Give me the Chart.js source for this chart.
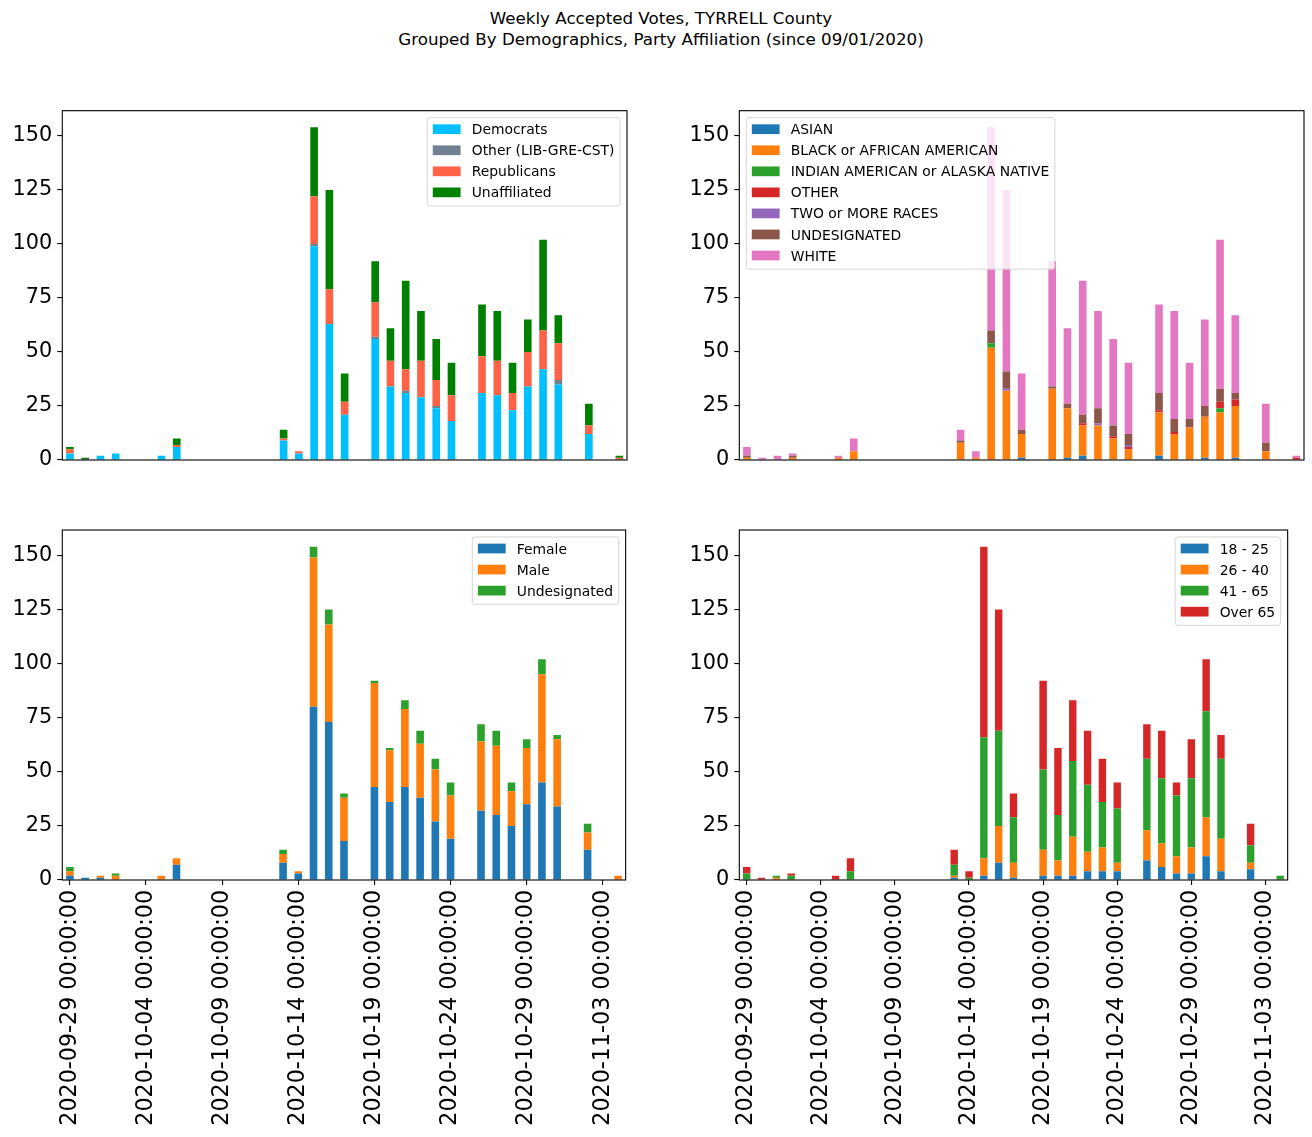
<!DOCTYPE html>
<html><head><meta charset="utf-8">
<script src="https://cdn.jsdelivr.net/npm/chart.js@4.4.1/dist/chart.umd.min.js"></script>
<style>
html,body{margin:0;padding:0;background:#fff;overflow:hidden;width:1312px;height:1137px;}
canvas{position:absolute;}
#title{position:absolute;left:0;top:7.7px;width:1322px;text-align:center;font-family:'DejaVu Sans';font-size:16.7px;line-height:21px;color:#000;}
</style></head><body>
<div id="title">Weekly Accepted Votes, TYRRELL County<br>Grouped By Demographics, Party Affiliation (since 09/01/2020)</div>
<canvas id="c1"></canvas><canvas id="c2"></canvas><canvas id="c3"></canvas><canvas id="c4"></canvas>
<script>
const dates = [
 "2020-09-29 00:00:00","2020-09-30 00:00:00","2020-10-01 00:00:00","2020-10-02 00:00:00","2020-10-03 00:00:00",
 "2020-10-04 00:00:00","2020-10-05 00:00:00","2020-10-06 00:00:00","2020-10-07 00:00:00","2020-10-08 00:00:00",
 "2020-10-09 00:00:00","2020-10-10 00:00:00","2020-10-11 00:00:00","2020-10-12 00:00:00","2020-10-13 00:00:00",
 "2020-10-14 00:00:00","2020-10-15 00:00:00","2020-10-16 00:00:00","2020-10-17 00:00:00","2020-10-18 00:00:00",
 "2020-10-19 00:00:00","2020-10-20 00:00:00","2020-10-21 00:00:00","2020-10-22 00:00:00","2020-10-23 00:00:00",
 "2020-10-24 00:00:00","2020-10-25 00:00:00","2020-10-26 00:00:00","2020-10-27 00:00:00","2020-10-28 00:00:00",
 "2020-10-29 00:00:00","2020-10-30 00:00:00","2020-10-31 00:00:00","2020-11-01 00:00:00","2020-11-02 00:00:00",
 "2020-11-03 00:00:00","2020-11-04 00:00:00"];

// Party affiliation
const democrats    = [3,0,2,3,0,0,2,6,0,0, 0,0,0,0,9,3,99,63,21,0, 56,34,31,29,24,18,0,31,30,23, 34,42,35,0,12,0,0];
const otherParty   = [0,0,0,0,0,0,0,0,0,0, 0,0,0,0,0,0,1,0,0,0, 1,0,1,0,1,0,0,0,0,0, 0,0,2,0,0,0,0];
const republicans  = [2,0,0,0,0,0,0,1,0,0, 0,0,0,0,1,1,22,16,6,0, 16,12,10,17,12,12,0,17,16,8, 16,18,17,0,4,0,1];
const unaffiliated = [1,1,0,0,0,0,0,3,0,0, 0,0,0,0,4,0,32,46,13,0, 19,15,41,23,19,15,0,24,23,14, 15,42,13,0,10,0,1];

// Race
const asian      = [0,0,0,0,0,0,0,0,0,0, 0,0,0,0,0,0,0,0,1,0, 0,1,2,0,0,0,0,2,0,0, 1,0,1,0,0,0,0];
const black      = [1,0,0,1,0,0,1,4,0,0, 0,0,0,0,8,1,52,32,11,0, 33,23,14,16,10,5,0,20,12,15, 19,22,24,0,4,0,0];
const indian     = [0,0,0,0,0,0,0,0,0,0, 0,0,0,0,0,0,2,0,0,0, 0,0,0,0,0,0,0,0,0,0, 0,2,0,0,0,0,0];
const otherRace  = [0,0,0,0,0,0,0,0,0,0, 0,0,0,0,0,0,0,0,0,0, 0,0,1,0,1,1,0,1,1,0, 0,3,3,0,0,0,1];
const twoOrMore  = [0,0,0,0,0,0,0,0,0,0, 0,0,0,0,0,0,0,1,0,0, 0,0,0,1,0,1,0,0,0,0, 0,0,0,0,0,0,0];
const undesRace  = [1,0,0,1,0,0,0,0,0,0, 0,0,0,0,1,0,6,8,2,0, 1,2,4,7,5,5,0,8,6,4, 5,6,3,0,4,0,0];
const white      = [4,1,2,1,0,0,1,6,0,0, 0,0,0,0,5,3,94,84,26,0, 58,35,62,45,40,33,0,41,50,26, 40,69,36,0,18,0,1];

// Gender
const female      = [2,1,1,0,0,0,0,7,0,0, 0,0,0,0,8,3,80,73,18,0, 43,36,43,38,27,19,0,32,30,25, 35,45,34,0,14,0,0];
const male        = [2,0,1,2,0,0,2,3,0,0, 0,0,0,0,4,1,69,45,20,0, 48,24,36,25,24,20,0,32,32,16, 26,50,31,0,8,0,2];
const undesGender = [2,0,0,1,0,0,0,0,0,0, 0,0,0,0,2,0,5,7,2,0, 1,1,4,6,5,6,0,8,7,4, 4,7,2,0,4,0,0];

// Age
const age18_25 = [0,0,0,0,0,0,0,0,0,0, 0,0,0,0,1,0,2,8,1,0, 2,2,2,4,4,4,0,9,6,3, 3,11,4,0,5,0,0];
const age26_40 = [0,0,1,0,0,0,0,0,0,0, 0,0,0,0,1,0,8,17,7,0, 12,7,18,9,11,4,0,14,11,8, 12,18,15,0,3,0,0];
const age41_65 = [3,0,1,2,0,0,0,4,0,0, 0,0,0,0,5,1,56,44,21,0, 37,21,35,31,21,25,0,33,30,28, 32,49,37,0,8,0,2];
const ageOver65= [3,1,0,1,0,0,2,6,0,0, 0,0,0,0,7,3,88,56,11,0, 41,31,28,25,20,12,0,16,22,6, 18,24,11,0,10,0,0];

const yTicks = [0,25,50,75,100,125,150];
const FONT = 'DejaVu Sans';

const framePlugin = {
  id: 'frame',
  afterDatasetsDraw(chart) {
    const {ctx, chartArea: a} = chart;
    ctx.save();
    ctx.strokeStyle = '#000';
    ctx.lineWidth = 1.1;
    ctx.strokeRect(a.left, a.top, a.right - a.left, a.bottom - a.top);
    ctx.restore();
  }
};

const legendPlugin = {
  id: 'mlLegend',
  afterDraw(chart, args, opts) {
    const ctx = chart.ctx, a = chart.chartArea;
    const fs = 13.9;
    const items = chart.data.datasets.map(d => ({text: d.label, color: d.backgroundColor}));
    ctx.save();
    ctx.font = fs + 'px "' + FONT + '"';
    const pad = 0.4 * fs, hl = 2 * fs, htp = 0.8 * fs, rowH = 14.1, ls = 0.5 * fs, bap = 0.5 * fs;
    const tw = Math.max(...items.map(i => ctx.measureText(i.text).width));
    const w = pad * 2 + hl + htp + tw;
    const h = pad * 2 + items.length * rowH + (items.length - 1) * ls;
    const top = a.top + bap;
    const left = opts.corner === 'ul' ? a.left + bap : a.right - bap - w;
    const r = 2.8;
    ctx.beginPath();
    ctx.moveTo(left + r, top);
    ctx.lineTo(left + w - r, top);
    ctx.quadraticCurveTo(left + w, top, left + w, top + r);
    ctx.lineTo(left + w, top + h - r);
    ctx.quadraticCurveTo(left + w, top + h, left + w - r, top + h);
    ctx.lineTo(left + r, top + h);
    ctx.quadraticCurveTo(left, top + h, left, top + h - r);
    ctx.lineTo(left, top + r);
    ctx.quadraticCurveTo(left, top, left + r, top);
    ctx.closePath();
    ctx.fillStyle = 'rgba(255,255,255,0.8)';
    ctx.fill();
    ctx.strokeStyle = 'rgba(204,204,204,0.8)';
    ctx.lineWidth = 1;
    ctx.stroke();
    items.forEach((it, i) => {
      const cy = top + pad + 6 + i * (rowH + ls);
      ctx.fillStyle = it.color;
      ctx.fillRect(left + pad, cy - 0.35 * fs, hl, 0.7 * fs);
      ctx.fillStyle = '#000';
      ctx.textBaseline = 'alphabetic';
      ctx.textAlign = 'left';
      ctx.fillText(it.text, left + pad + hl + htp, cy + 5.05);
    });
    ctx.restore();
  }
};

function makeChart(id, box, yW, padTop, padRight, padBottom, xH, showX, series, corner) {
  const cv = document.getElementById(id);
  cv.width = box.w; cv.height = box.h;
  cv.style.left = box.x + 'px'; cv.style.top = box.y + 'px';
  cv.style.width = box.w + 'px'; cv.style.height = box.h + 'px';
  return new Chart(cv, {
    type: 'bar',
    data: {
      labels: dates,
      datasets: series.map(s => ({
        label: s.label, data: s.data, backgroundColor: s.color,
        borderWidth: 0, barPercentage: 0.5, categoryPercentage: 1.0
      }))
    },
    options: {
      responsive: false, animation: false,
      layout: {padding: {left: 0, top: padTop, right: padRight, bottom: padBottom}},
      plugins: {legend: {display: false}, tooltip: {enabled: false}, mlLegend: {corner}},
      scales: {
        x: {
          stacked: true, offset: true, display: showX,
          afterFit: s => { s.height = xH; },
          grid: {display: true, drawOnChartArea: false, drawTicks: true, tickLength: 5, offset: false,
                 lineWidth: 1.1, color: c => (c.index % 5 === 0 ? '#000' : 'rgba(0,0,0,0)')},
          border: {display: false},
          ticks: {autoSkip: false, maxRotation: 90, minRotation: 90, padding: 5, color: '#000',
                  font: {family: FONT, size: 22.2},
                  callback: (v, i) => (i % 5 === 0 ? dates[i] : '')}
        },
        y: {
          stacked: true, min: 0, max: 161.7,
          afterFit: s => { s.width = yW; },
          afterBuildTicks: s => { s.ticks = yTicks.map(v => ({value: v})); },
          grid: {drawOnChartArea: false, drawTicks: true, tickLength: 5, lineWidth: 1.1, color: '#000'},
          border: {display: false},
          ticks: {stepSize: 25, includeBounds: false, padding: 5, color: '#000', font: {family: FONT, size: 20.8}}
        }
      }
    },
    plugins: [framePlugin, legendPlugin]
  });
}

const partySeries = [
  {label: 'Democrats', data: democrats, color: '#00bfff'},
  {label: 'Other (LIB-GRE-CST)', data: otherParty, color: '#708090'},
  {label: 'Republicans', data: republicans, color: '#ff6347'},
  {label: 'Unaffiliated', data: unaffiliated, color: '#008000'}
];
const raceSeries = [
  {label: 'ASIAN', data: asian, color: '#1f77b4'},
  {label: 'BLACK or AFRICAN AMERICAN', data: black, color: '#ff7f0e'},
  {label: 'INDIAN AMERICAN or ALASKA NATIVE', data: indian, color: '#2ca02c'},
  {label: 'OTHER', data: otherRace, color: '#d62728'},
  {label: 'TWO or MORE RACES', data: twoOrMore, color: '#9467bd'},
  {label: 'UNDESIGNATED', data: undesRace, color: '#8c564b'},
  {label: 'WHITE', data: white, color: '#e377c2'}
];
const genderSeries = [
  {label: 'Female', data: female, color: '#1f77b4'},
  {label: 'Male', data: male, color: '#ff7f0e'},
  {label: 'Undesignated', data: undesGender, color: '#2ca02c'}
];
const ageSeries = [
  {label: '18 - 25', data: age18_25, color: '#1f77b4'},
  {label: '26 - 40', data: age26_40, color: '#ff7f0e'},
  {label: '41 - 65', data: age41_65, color: '#2ca02c'},
  {label: 'Over 65', data: ageOver65, color: '#d62728'}
];

makeChart('c1', {x: 0, y: 90, w: 650, h: 390}, 62.3, 20.7, 23, 20, 0, false, partySeries, 'ur');
makeChart('c2', {x: 676, y: 90, w: 636, h: 390}, 63.3, 20.7, 8, 20, 0, false, raceSeries, 'ul');
makeChart('c3', {x: 0, y: 510, w: 650, h: 627}, 62.3, 20, 23, 0, 257, true, genderSeries, 'ur');
makeChart('c4', {x: 676, y: 510, w: 636, h: 627}, 63.3, 20, 8, 0, 257, true, ageSeries, 'ur');
</script>
</body></html>
